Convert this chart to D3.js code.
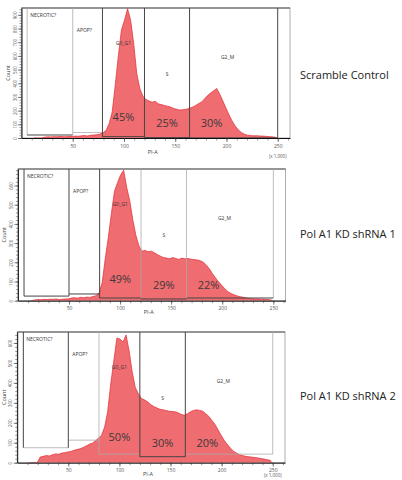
<!DOCTYPE html>
<html><head><meta charset="utf-8">
<script src="https://cdn.jsdelivr.net/npm/d3@7"></script>
<style>
body{margin:0;background:#fff}
svg text{font-family:"Open Sans",sans-serif}
</style></head><body>
<svg id="chart" width="402" height="480"></svg>
<script>
// ---- data ----
var sampleNames = ["Scramble Control", "Pol A1 KD shRNA 1", "Pol A1 KD shRNA 2"];
var gateNames = ["NECROTIC?", "APOP?", "G0_G1", "S", "G2_M"];
var binStart = 12, binWidth = 3;   // PI-A (x 1,000)

var countsScramble = [0,0,0,6,9,8,10,9,11,10,9,12,11,14,13,16,18,15,20,22,24,28,38,55,105,190,390,600,790,860,
  945,860,690,470,360,305,282,270,262,268,250,244,238,232,226,216,210,204,207,210,216,224,236,250,262,285,310,328,345,362,
  320,270,220,170,125,88,60,40,28,21,18,16,17,15,14,12,10,9,6];
var countsShRNA1 = [0,4,6,5,7,6,8,7,9,6,8,9,10,14,16,13,18,15,19,17,22,26,40,95,220,330,455,570,615,655,
  680,590,520,420,340,285,258,262,255,258,250,240,232,225,222,218,225,220,215,222,218,220,216,214,212,208,200,185,165,140,
  118,98,80,62,47,38,31,25,21,18,14,12,10,9,9,8,7,6,4];
var countsShRNA2 = [0,0,0,28,32,36,34,40,44,42,48,50,54,56,62,66,70,76,84,92,98,110,122,138,178,255,395,510,625,620,
  605,640,560,455,378,345,322,315,305,292,282,275,268,265,262,258,256,255,250,242,238,245,255,262,265,262,258,245,232,212,
  192,165,138,112,92,74,58,48,40,36,32,30,28,26,24,21,18,15,12];

// gate boundaries on PI-A and gate floors (count)
var gateEdgesScramble = [5.5, 50, 79, 120, 164, 250];
var gateEdgesShRNA1 = [6, 50, 80, 120.5, 165, 250];
var gateEdgesShRNA2 = [6, 50, 80, 120, 164.5, 250];
var gateFloorScramble = [22, 40, 10, 3, 1];
var gateFloorShRNA1 = [24, 35, 14, 9, 14];
var gateFloorShRNA2 = [75, 113, 43, 30, 43];

var phasePctScramble = [45, 25, 30];
var phasePctShRNA1 = [49, 29, 22];
var phasePctShRNA2 = [50, 30, 20];

var yMaxCount = [950, 686, 655];
var xTickLabels = [50, 100, 150, 200, 250];

// ---- layout / style ----
var panels = [
  {counts: countsScramble, edges: gateEdgesScramble, floors: gateFloorScramble, pct: phasePctScramble,
   left: 21.5, right: 290, top: 8, bottom: 138, pctOff: [21, 15], labOff: 16, unitOff: 20, nameY: 75,
   vDark: [0,0,1,1,1,1], fDark: [1,0,1,1,1]},
  {counts: countsShRNA1, edges: gateEdgesShRNA1, floors: gateFloorShRNA1, pct: phasePctShRNA1,
   left: 17.9, right: 285.6, top: 169, bottom: 300.7, pctOff: [22, 16], labOff: 13, unitOff: 0, nameY: 234,
   vDark: [1,1,1,0,0,0], fDark: [1,1,1,1,1]},
  {counts: countsShRNA2, edges: gateEdgesShRNA2, floors: gateFloorShRNA2, pct: phasePctShRNA2,
   left: 17.2, right: 285, top: 332, bottom: 462.7, pctOff: [26, 20], labOff: 13, unitOff: 14.5, nameY: 396,
   vDark: [1,1,0,1,1,0], fDark: [0,0,0,1,0]}
];
var gateLabelOff = [[3, 7], [4, 22], [0, 35], [0, 66], [38, 49]];
var darkC = "#454545", lightC = "#ababab";

var svg = d3.select("#chart");

panels.forEach(function(p, i) {
  var x = d3.scaleLinear().domain([0, 262]).range([p.left, p.right]);
  var y = d3.scaleLinear().domain([0, yMaxCount[i]]).range([p.bottom, p.top]);
  var g = svg.append("g");

  var clipId = "clip" + i;
  g.append("clipPath").attr("id", clipId).append("rect")
    .attr("x", p.left).attr("y", p.top).attr("width", p.right - p.left).attr("height", p.bottom - p.top);

  // frame
  g.append("rect").attr("x", p.left).attr("y", p.top)
    .attr("width", p.right - p.left).attr("height", p.bottom - p.top)
    .attr("fill", "none").attr("stroke", "#9a9a9a").attr("stroke-width", 0.8);
  g.append("line").attr("x1", p.left).attr("x2", p.right).attr("y1", p.top).attr("y2", p.top)
    .attr("stroke", "#555").attr("stroke-width", 1);

  // histogram (bin centres)
  var pts = [{v: binStart, c: 0}].concat(p.counts.map(function(c, k) {
    return {v: binStart + (k + 0.5) * binWidth, c: c};
  }));
  pts.push({v: binStart + p.counts.length * binWidth, c: 0});
  var area = d3.area()
    .x(function(d) { return x(d.v); }).y0(y(0)).y1(function(d) { return y(d.c); });
  var line = d3.line()
    .x(function(d) { return x(d.v); }).y(function(d) { return y(d.c); });
  var hg = g.append("g").attr("clip-path", "url(#" + clipId + ")");
  hg.append("path").datum(pts).attr("d", area).attr("fill", "#ef6c71");
  hg.append("path").datum(pts).attr("d", line).attr("fill", "none")
    .attr("stroke", "#e32b33").attr("stroke-width", 0.7);

  // gate floors, then gate verticals (light first, dark on top)
  var segs = [];
  p.floors.forEach(function(f, k) {
    segs.push({x1: x(p.edges[k]), x2: x(p.edges[k + 1]), y1: y(f), y2: y(f), dark: p.fDark[k]});
  });
  p.edges.forEach(function(e, k) {
    var fl = Math.min(k > 0 ? p.floors[k - 1] : 1e9, k < 5 ? p.floors[k] : 1e9);
    segs.push({x1: x(e), x2: x(e), y1: p.top, y2: y(fl), dark: p.vDark[k]});
  });
  segs.sort(function(a, b) { return a.dark - b.dark; });
  g.selectAll("line.gate").data(segs).enter().append("line").attr("class", "gate")
    .attr("x1", function(d) { return d.x1; }).attr("x2", function(d) { return d.x2; })
    .attr("y1", function(d) { return d.y1; }).attr("y2", function(d) { return d.y2; })
    .attr("stroke", function(d) { return d.dark ? darkC : lightC; })
    .attr("stroke-width", function(d) { return d.dark ? 1 : 0.8; });

  // gate labels
  gateNames.forEach(function(name, k) {
    var x0 = x(p.edges[k]), x1 = x(p.edges[k + 1]);
    var centred = k === 2 || k === 3;
    var gx = centred ? (x0 + x1) / 2 + gateLabelOff[k][0] : x0 + gateLabelOff[k][0];
    g.append("text").attr("x", gx).attr("y", p.top + gateLabelOff[k][1] + 2)
      .attr("text-anchor", k < 2 ? "start" : "middle")
      .attr("font-size", 5).attr("fill", "#333").text(name);
  });

  // phase percentages
  var pctX = [(x(p.edges[2]) + x(p.edges[3])) / 2, (x(p.edges[3]) + x(p.edges[4])) / 2, x(p.edges[4]) + 22];
  p.pct.forEach(function(v, k) {
    g.append("text").attr("x", pctX[k]).attr("y", p.bottom - (k === 0 ? p.pctOff[0] : p.pctOff[1]) + 4)
      .attr("text-anchor", "middle").attr("font-size", 11).attr("fill", "#3a3a3a").text(v + "%");
  });

  // y axis
  var yMinor = d3.range(0, yMaxCount[i], 20);
  var yMajor = d3.range(0, yMaxCount[i], 100);
  g.append("g").attr("transform", "translate(" + p.left + ",0)")
    .call(d3.axisLeft(y).tickValues(yMinor).tickSize(2).tickFormat(""))
    .call(function(a) { a.select(".domain").remove(); a.selectAll("line").attr("stroke", "#333").attr("stroke-width", 0.5); });
  var ya = g.append("g").attr("transform", "translate(" + p.left + ",0)")
    .call(d3.axisLeft(y).tickValues(yMajor).tickSize(3.5).tickSizeOuter(0));
  ya.select(".domain").attr("stroke", "#111");
  ya.selectAll("line").attr("stroke", "#333").attr("stroke-width", 0.6);
  ya.selectAll("text").attr("x", 0).attr("dy", 0).attr("font-size", 4.5).attr("fill", "#555")
    .attr("text-anchor", "middle").attr("transform", "translate(-5,0) rotate(-90)");
  g.append("text").attr("transform", "translate(" + (p.left - 11.5) + "," + ((p.top + p.bottom) / 2) + ") rotate(-90)")
    .attr("text-anchor", "middle").attr("font-size", 5.5).attr("fill", "#444").text("Count");

  // x axis
  var xMinor = d3.range(10, 262, 10);
  var xa0 = g.append("g").attr("transform", "translate(0," + p.bottom + ")")
    .call(d3.axisBottom(x).tickValues(xMinor).tickSize(2.5).tickFormat("").tickSizeOuter(0));
  xa0.select(".domain").attr("stroke", "#111");
  xa0.selectAll("line").attr("stroke", "#333").attr("stroke-width", 0.5);
  var xa = g.append("g").attr("transform", "translate(0," + p.bottom + ")")
    .call(d3.axisBottom(x).tickValues(xTickLabels).tickSize(4).tickPadding(2));
  xa.select(".domain").remove();
  xa.selectAll("line").attr("stroke", "#333").attr("stroke-width", 0.6);
  xa.selectAll("text").attr("font-size", 5).attr("fill", "#555");
  g.append("text").attr("x", x(128)).attr("y", p.bottom + p.labOff)
    .attr("text-anchor", "middle").attr("font-size", 5.5).attr("fill", "#444").text("PI-A");
  if (p.unitOff) {
    g.append("text").attr("x", x(250)).attr("y", p.bottom + p.unitOff)
      .attr("text-anchor", "middle").attr("font-size", 4.5).attr("fill", "#555").text("(x 1,000)");
  }

  // sample name
  svg.append("text").attr("x", 300).attr("y", p.nameY + 4)
    .attr("font-size", 11).attr("fill", "#222").text(sampleNames[i]);
});
</script>
</body></html>
